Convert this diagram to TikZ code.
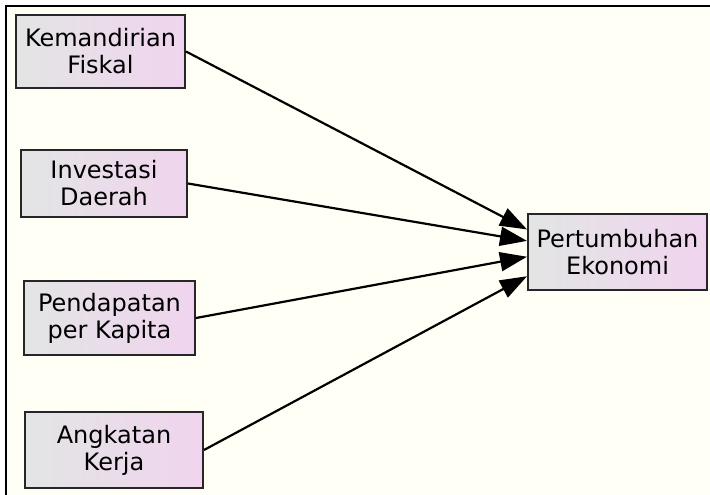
\documentclass[tikz,border=0pt]{standalone}
\usepackage{fontspec}
\setmainfont{DejaVu Sans}
\usetikzlibrary{arrows.meta}
\definecolor{paper}{HTML}{FFFFF5}
\definecolor{boxleft}{HTML}{E3E5E5}
\definecolor{boxright}{HTML}{F0D4EE}
\tikzset{
  var/.style={rectangle, draw=black!85, line width=2pt, left color=boxleft, right color=boxright,
    align=center, inner sep=0pt, text=black, font=\fontsize{24}{27}\selectfont},
  effect/.style={line width=2.2pt, -{Triangle[length=27pt,width=19pt]}}
}
\begin{document}
\begin{tikzpicture}[x=1pt,y=-1pt]
    \useasboundingbox (0,0) rectangle (710,495);
    \fill[paper] (6,6) rectangle (710,495);
    \draw[line width=2.2pt] (6,495) -- (6,6) -- (710,6);
    \node[var,minimum width=169pt,minimum height=73pt] (KF) at (100.5,51.5) {Kemandirian\\Fiskal};
    \node[var,minimum width=166pt,minimum height=67pt] (ID) at (104,183.5) {Investasi\\Daerah};
    \node[var,minimum width=171pt,minimum height=74pt] (PK) at (109.5,318) {Pendapatan\\per Kapita};
    \node[var,minimum width=178pt,minimum height=76pt] (AK) at (114,450) {Angkatan\\Kerja};
    \node[var,minimum width=179pt,minimum height=76pt] (PE) at (617.5,252) {Pertumbuhan\\Ekonomi};
    \draw[effect] (KF.east) -- (PE.166);
    \draw[effect] (ID.east) -- (PE.173.6);
    \draw[effect] (PK.east) -- (PE.183.8);
    \draw[effect] (AK.east) -- (PE.195.6);
  \end{tikzpicture}
\end{document}
